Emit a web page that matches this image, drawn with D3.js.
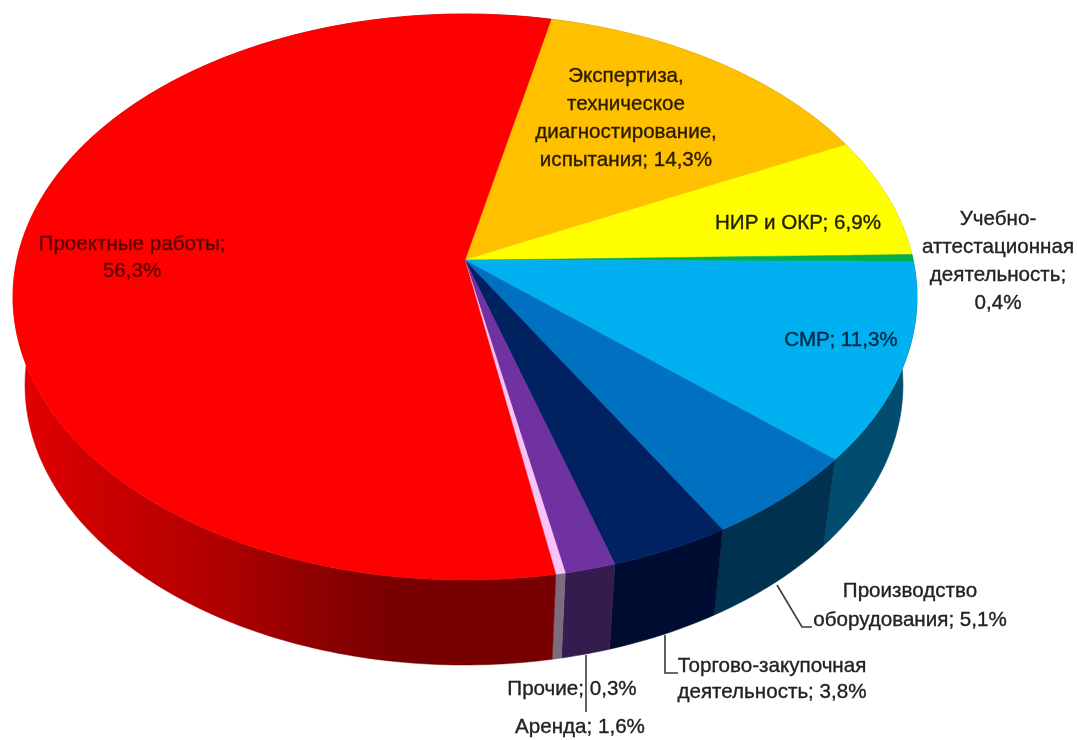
<!DOCTYPE html>
<html>
<head>
<meta charset="utf-8">
<script src="https://cdn.jsdelivr.net/npm/d3@7"></script>
<style>
    html, body { margin: 0; padding: 0; background: #fff; }
    text { font-family: "Liberation Sans", Arial, sans-serif; font-size: 20.6px; text-anchor: middle; }
</style>
</head>
<body>
<svg id="chart" width="1077" height="740"></svg>
<script>
const categories = ['Экспертиза, техническое диагностирование, испытания', 'НИР и ОКР',
    'Учебно-аттестационная деятельность', 'СМР', 'Производство оборудования',
    'Торгово-закупочная деятельность', 'Аренда', 'Прочие', 'Проектные работы']
const values = [14.3, 6.9, 0.4, 11.3, 5.1, 3.8, 1.6, 0.3, 56.3]
const topColors = ['#ffc000', '#ffff00', '#00b050', '#00b0f0', '#0070c0', '#002060', '#7030a0', '#f8c4f8', '#ff0000']
const sideColors = ['#a08000', '#a0a000', '#006a30', '#004e70', '#00304f', '#000a30', '#341a50', '#7c6c80', 'url(#redSide)']

// label text by line, in the same order as the categories
const labelLines = [
    ['Экспертиза,', 'техническое', 'диагностирование,', 'испытания; 14,3%'],
    ['НИР и ОКР; 6,9%'],
    ['Учебно-', 'аттестационная', 'деятельность;', '0,4%'],
    ['СМР; 11,3%'],
    ['Производство', 'оборудования; 5,1%'],
    ['Торгово-закупочная', 'деятельность; 3,8%'],
    ['Аренда; 1,6%'],
    ['Прочие; 0,3%'],
    ['Проектные работы;', '56,3%']
]
const labelX = [626, 798, 998, 841, 910, 772, 580, 572, 132]
const labelY = [[82, 110, 138, 166], [229], [225, 253, 281, 309], [346], [597, 626], [672, 698], [733], [695], [250, 277]]
const labelFill = ['#2a1c00', '#222200', '#222', '#002a4a', '#222', '#222', '#222', '#222', '#5a0000']

const leaders = [
    [[777, 585], [802, 627], [812, 627]],
    [[665, 635], [665, 673], [678, 673]],
    [[586, 655], [586, 712]]
]

const svg = d3.select('#chart')

const defs = svg.append('defs')
defs.append('filter').attr('id', 'soft')
    .append('feGaussianBlur').attr('stdDeviation', 0.7)

// top face and lower rim of the pie are two ellipses
const topX = d3.scaleLinear().domain([-1, 1]).range([13, 917])
const topY = d3.scaleLinear().domain([-1, 1]).range([14, 580])
const baseX = d3.scaleLinear().domain([-1, 1]).range([25, 903])
const baseY = d3.scaleLinear().domain([-1, 1]).range([105, 665])

const tilt = -0.13

// flat disc point -> point on unit circle seen in perspective
function project(radius, angle) {
    let u = radius * Math.sin(angle)
    let v = -radius * Math.cos(angle)
    let den = 1 + tilt * v
    return [u * Math.sqrt(1 - tilt * tilt) / den, (v + tilt) / den]
}

const pie = d3.pie().sort(null).value(d => d)
    .startAngle(12.5 * Math.PI / 180)
    .endAngle(372.5 * Math.PI / 180)
const slices = pie(values)

const line = d3.line()

function rimPoints(d, xs, ys) {
    let n = Math.max(2, Math.ceil((d.endAngle - d.startAngle) * 60))
    return d3.range(n + 1).map(i => {
        let p = project(1, d.startAngle + (d.endAngle - d.startAngle) * i / n)
        return [xs(p[0]), ys(p[1])]
    })
}

const redGrad = defs.append('linearGradient')
    .attr('id', 'redSide')
    .attr('gradientUnits', 'userSpaceOnUse')
    .attr('x1', 13).attr('x2', 560).attr('y1', 0).attr('y2', 0)
redGrad.selectAll('stop')
    .data([[0, '#e60000'], [0.15, '#cc0000'], [0.38, '#b00000'], [0.55, '#8e0000'], [0.72, '#760000'], [1, '#780000']])
    .enter().append('stop')
    .attr('offset', d => d[0])
    .attr('stop-color', d => d[1])

const pieG = svg.append('g').attr('filter', 'url(#soft)')

// sides
pieG.append('g').selectAll('path')
    .data(slices)
    .enter().append('path')
    .attr('d', d => line(rimPoints(d, topX, topY).concat(rimPoints(d, baseX, baseY).reverse())) + 'Z')
    .attr('fill', (d, i) => sideColors[i])
    .attr('stroke', (d, i) => sideColors[i])
    .attr('stroke-width', 0.5)

// top face
const apex = project(0, 0)
pieG.append('g').selectAll('path')
    .data(slices)
    .enter().append('path')
    .attr('d', d => line([[topX(apex[0]), topY(apex[1])]].concat(rimPoints(d, topX, topY))) + 'Z')
    .attr('fill', (d, i) => topColors[i])
    .attr('stroke', (d, i) => topColors[i])
    .attr('stroke-width', 0.5)

// leader lines, filter sits on the group since a vertical line has an empty bbox
svg.append('g').attr('filter', 'url(#soft)')
    .selectAll('path')
    .data(leaders)
    .enter().append('path')
    .attr('d', d => line(d))
    .attr('fill', 'none')
    .attr('stroke', '#3a3a3a')
    .attr('stroke-width', 1.6)

// labels
const labels = svg.append('g').attr('filter', 'url(#soft)')
    .selectAll('text')
    .data(categories)
    .enter().append('text')
    .attr('fill', (d, i) => labelFill[i])
    .attr('stroke', (d, i) => labelFill[i])
    .attr('stroke-width', 0.35)

labels.each(function (d, i) {
    d3.select(this).selectAll('tspan')
        .data(labelLines[i])
        .enter().append('tspan')
        .attr('x', labelX[i])
        .attr('y', (t, j) => labelY[i][j])
        .text(t => t)
})
</script>
</body>
</html>
